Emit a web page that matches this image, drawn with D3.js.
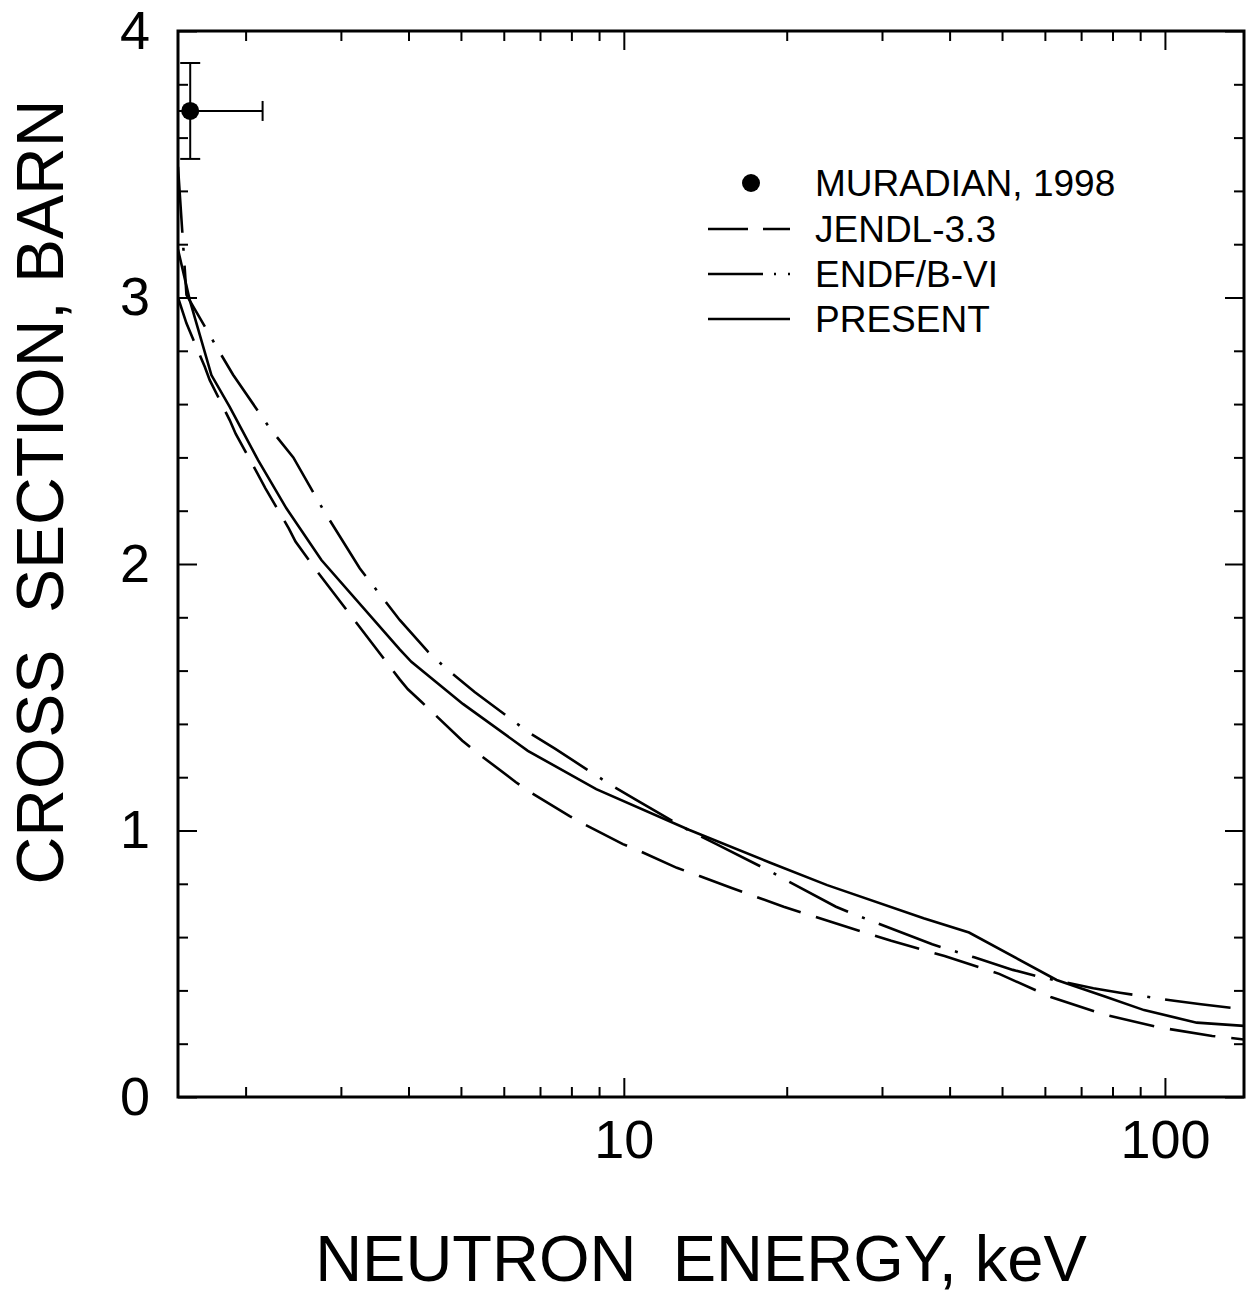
<!DOCTYPE html>
<meta charset="utf-8">
<head>
<style type='text/css'>
  body {
    margin: 0;
    background: #fff;
    font-family: 'Liberation Sans', Arial, sans-serif;
  }
  .axis .domain {
    display: none;
  }
  .axis line {
    stroke: #000;
    stroke-width: 2px;
  }
  .axis text {
    font-size: 54px;
    fill: #000;
  }
  .curve {
    fill: none;
    stroke: #000;
    stroke-width: 2.6px;
  }
  .title {
    white-space: pre;
  }
  .legend text {
    font-size: 37px;
  }
</style>
</head>
<body>
<svg id="chart" width="1255" height="1296"></svg>
<script src="https://d3js.org/d3.v7.min.js"></script>
<script>
// ---- data ----
// experimental point (Muradian, 1998)
var expE = [1.58],
    expSigma = [3.70],
    expSigmaErr = [0.18],
    expElo = [1.3],
    expEhi = [2.15];

// JENDL-3.3 (dashed)
var jendlE = [1.5, 1.555, 1.681, 1.717, 1.869, 1.918, 2.103, 2.176, 2.403, 2.473, 2.684,
              3.853, 3.99, 4.225, 5.03, 5.3, 6.31, 6.675, 7.94, 8.38, 9.96, 10.54, 12.53,
              13.8, 15.78, 19.74, 24.86, 31.2, 39.15, 49.4, 61.7, 77.7, 97.1, 122.3, 140];
var jendlSigma = [3.00, 2.903, 2.74, 2.69, 2.54, 2.488, 2.34, 2.284, 2.134, 2.084, 1.984,
                  1.567, 1.53, 1.483, 1.337, 1.299, 1.182, 1.147, 1.054, 1.027, 0.949, 0.929, 0.860,
                  0.829, 0.785, 0.714, 0.649, 0.586, 0.529, 0.462, 0.374, 0.308, 0.262, 0.229, 0.216];

// ENDF/B-VI (dash-dot)
var endfE = [1.5, 1.555, 1.767, 1.896, 2.216, 2.45, 2.78, 3.25, 3.853, 4.345, 4.73, 5.3,
             6.65, 7.46, 9.41, 10.5, 13.2, 14.86, 18.73, 20.88, 24.66, 26.38, 29.41, 37.15,
             44.42, 52.36, 58.55, 73.74, 82.6, 104, 116.6, 140];
var endfSigma = [3.49, 3.01, 2.815, 2.71, 2.51, 2.40, 2.205, 1.984, 1.79, 1.671, 1.602, 1.52,
                 1.37, 1.307, 1.174, 1.117, 1.00, 0.948, 0.845, 0.792, 0.714, 0.689, 0.652, 0.573,
                 0.524, 0.477, 0.451, 0.408, 0.391, 0.361, 0.348, 0.329];

// PRESENT (solid)
var presE = [1.5, 1.577, 1.729, 1.869, 2.109, 2.379, 2.761, 3.853, 4.049, 5.042, 6.647,
             8.892, 13.22, 18.6, 23.76, 35.81, 43.45, 63.07, 77.7, 91.5, 114.5, 140];
var presSigma = [3.18, 2.99, 2.709, 2.59, 2.39, 2.209, 2.015, 1.680, 1.633, 1.475, 1.299,
                 1.155, 1.002, 0.88, 0.795, 0.671, 0.617, 0.439, 0.376, 0.326, 0.279, 0.267];

var xMajor = [10, 100],
    xMinor = [2, 3, 4, 5, 6, 7, 8, 9, 20, 30, 40, 50, 60, 70, 80, 90],
    yMajor = [0, 1, 2, 3, 4],
    yMinor = [0.2, 0.4, 0.6, 0.8, 1.2, 1.4, 1.6, 1.8, 2.2, 2.4, 2.6, 2.8, 3.2, 3.4, 3.6, 3.8];

var legendNames = ["MURADIAN, 1998", "JENDL-3.3", "ENDF/B-VI", "PRESENT"];

// ---- layout ----
var svg = d3.select("#chart");
var plotL = 178, plotR = 1244, plotT = 31, plotB = 1097;

var x = d3.scaleLog().domain([1.5, 140]).range([plotL, plotR]);
var y = d3.scaleLinear().domain([0, 4]).range([plotB, plotT]);

// clip for the curves and error bar
svg.append("clipPath").attr("id", "clip")
  .append("rect")
    .attr("x", plotL).attr("y", plotT)
    .attr("width", plotR - plotL).attr("height", plotB - plotT);

// axes: ticks pointing inward on all four sides
function noLabels(a) { return a.tickFormat(""); }

svg.append("g").attr("class", "axis")
    .attr("transform", "translate(0," + plotB + ")")
    .call(d3.axisBottom(x).tickValues(xMajor).tickSize(-19).tickPadding(23).tickFormat(d3.format("d")));
svg.append("g").attr("class", "axis")
    .attr("transform", "translate(0," + plotB + ")")
    .call(noLabels(d3.axisBottom(x).tickValues(xMinor).tickSize(-10)));
svg.append("g").attr("class", "axis")
    .attr("transform", "translate(0," + plotT + ")")
    .call(noLabels(d3.axisTop(x).tickValues(xMajor).tickSize(-19)));
svg.append("g").attr("class", "axis")
    .attr("transform", "translate(0," + plotT + ")")
    .call(noLabels(d3.axisTop(x).tickValues(xMinor).tickSize(-10)));

svg.append("g").attr("class", "axis")
    .attr("transform", "translate(" + plotL + ",0)")
    .call(d3.axisLeft(y).tickValues(yMajor).tickSize(-19).tickPadding(28).tickFormat(d3.format("d")));
svg.append("g").attr("class", "axis")
    .attr("transform", "translate(" + plotL + ",0)")
    .call(noLabels(d3.axisLeft(y).tickValues(yMinor).tickSize(-10)));
svg.append("g").attr("class", "axis")
    .attr("transform", "translate(" + plotR + ",0)")
    .call(noLabels(d3.axisRight(y).tickValues(yMajor).tickSize(-19)));
svg.append("g").attr("class", "axis")
    .attr("transform", "translate(" + plotR + ",0)")
    .call(noLabels(d3.axisRight(y).tickValues(yMinor).tickSize(-10)));

// frame
svg.append("rect")
    .attr("x", plotL).attr("y", plotT)
    .attr("width", plotR - plotL).attr("height", plotB - plotT)
    .attr("fill", "none").attr("stroke", "#000").attr("stroke-width", 3);

// curves
var line = d3.line()
    .x(function(d) { return x(d[0]); })
    .y(function(d) { return y(d[1]); });

var plot = svg.append("g").attr("clip-path", "url(#clip)");

plot.append("path").attr("class", "curve")
    .datum(d3.zip(jendlE, jendlSigma))
    .attr("stroke-dasharray", "46,16")
    .attr("d", line);
plot.append("path").attr("class", "curve")
    .datum(d3.zip(endfE, endfSigma))
    .attr("stroke-dasharray", "66,15,3,15")
    .attr("d", line);
plot.append("path").attr("class", "curve")
    .datum(d3.zip(presE, presSigma))
    .attr("d", line);

// experimental point with error bars
var cap = 10;
expE.forEach(function(e, i) {
  var cx = x(e), cy = y(expSigma[i]);
  var ylo = y(expSigma[i] - expSigmaErr[i]), yhi = y(expSigma[i] + expSigmaErr[i]);
  var g = plot.append("g").attr("stroke", "#000").attr("stroke-width", 2);
  g.append("line").attr("x1", cx).attr("x2", cx).attr("y1", ylo).attr("y2", yhi);
  g.append("line").attr("x1", cx - cap).attr("x2", cx + cap).attr("y1", ylo).attr("y2", ylo);
  g.append("line").attr("x1", cx - cap).attr("x2", cx + cap).attr("y1", yhi).attr("y2", yhi);
  g.append("line").attr("x1", x(expElo[i])).attr("x2", x(expEhi[i])).attr("y1", cy).attr("y2", cy);
  g.append("line").attr("x1", x(expEhi[i])).attr("x2", x(expEhi[i])).attr("y1", cy - cap).attr("y2", cy + cap);
  svg.append("circle").attr("cx", cx).attr("cy", cy).attr("r", 9).attr("fill", "#000");
});

// axis titles
svg.append("text").attr("class", "title")
    .attr("x", 701).attr("y", 1281)
    .attr("text-anchor", "middle")
    .style("font-size", "65px")
    .text("NEUTRON  ENERGY, keV");
svg.append("text").attr("class", "title")
    .attr("transform", "translate(63,492) rotate(-90)")
    .attr("text-anchor", "middle")
    .style("font-size", "66px")
    .text("CROSS  SECTION, BARN");

// legend
var legendY = [183, 229, 274, 319];
var legend = svg.append("g").attr("class", "legend");
legend.append("circle").attr("cx", 751).attr("cy", legendY[0]).attr("r", 9).attr("fill", "#000");
var sampleDash = [null, "40,15", "55,11,2,12,2,20", null];
[1, 2, 3].forEach(function(i) {
  legend.append("line")
      .attr("x1", 708).attr("x2", 790)
      .attr("y1", legendY[i]).attr("y2", legendY[i])
      .attr("stroke", "#000").attr("stroke-width", 2.6)
      .attr("stroke-dasharray", sampleDash[i]);
});
legend.selectAll("text")
    .data(legendNames)
  .enter().append("text")
    .attr("x", 815)
    .attr("y", function(d, i) { return legendY[i]; })
    .attr("dy", "0.36em")
    .text(function(d) { return d; });
</script>
</body>
